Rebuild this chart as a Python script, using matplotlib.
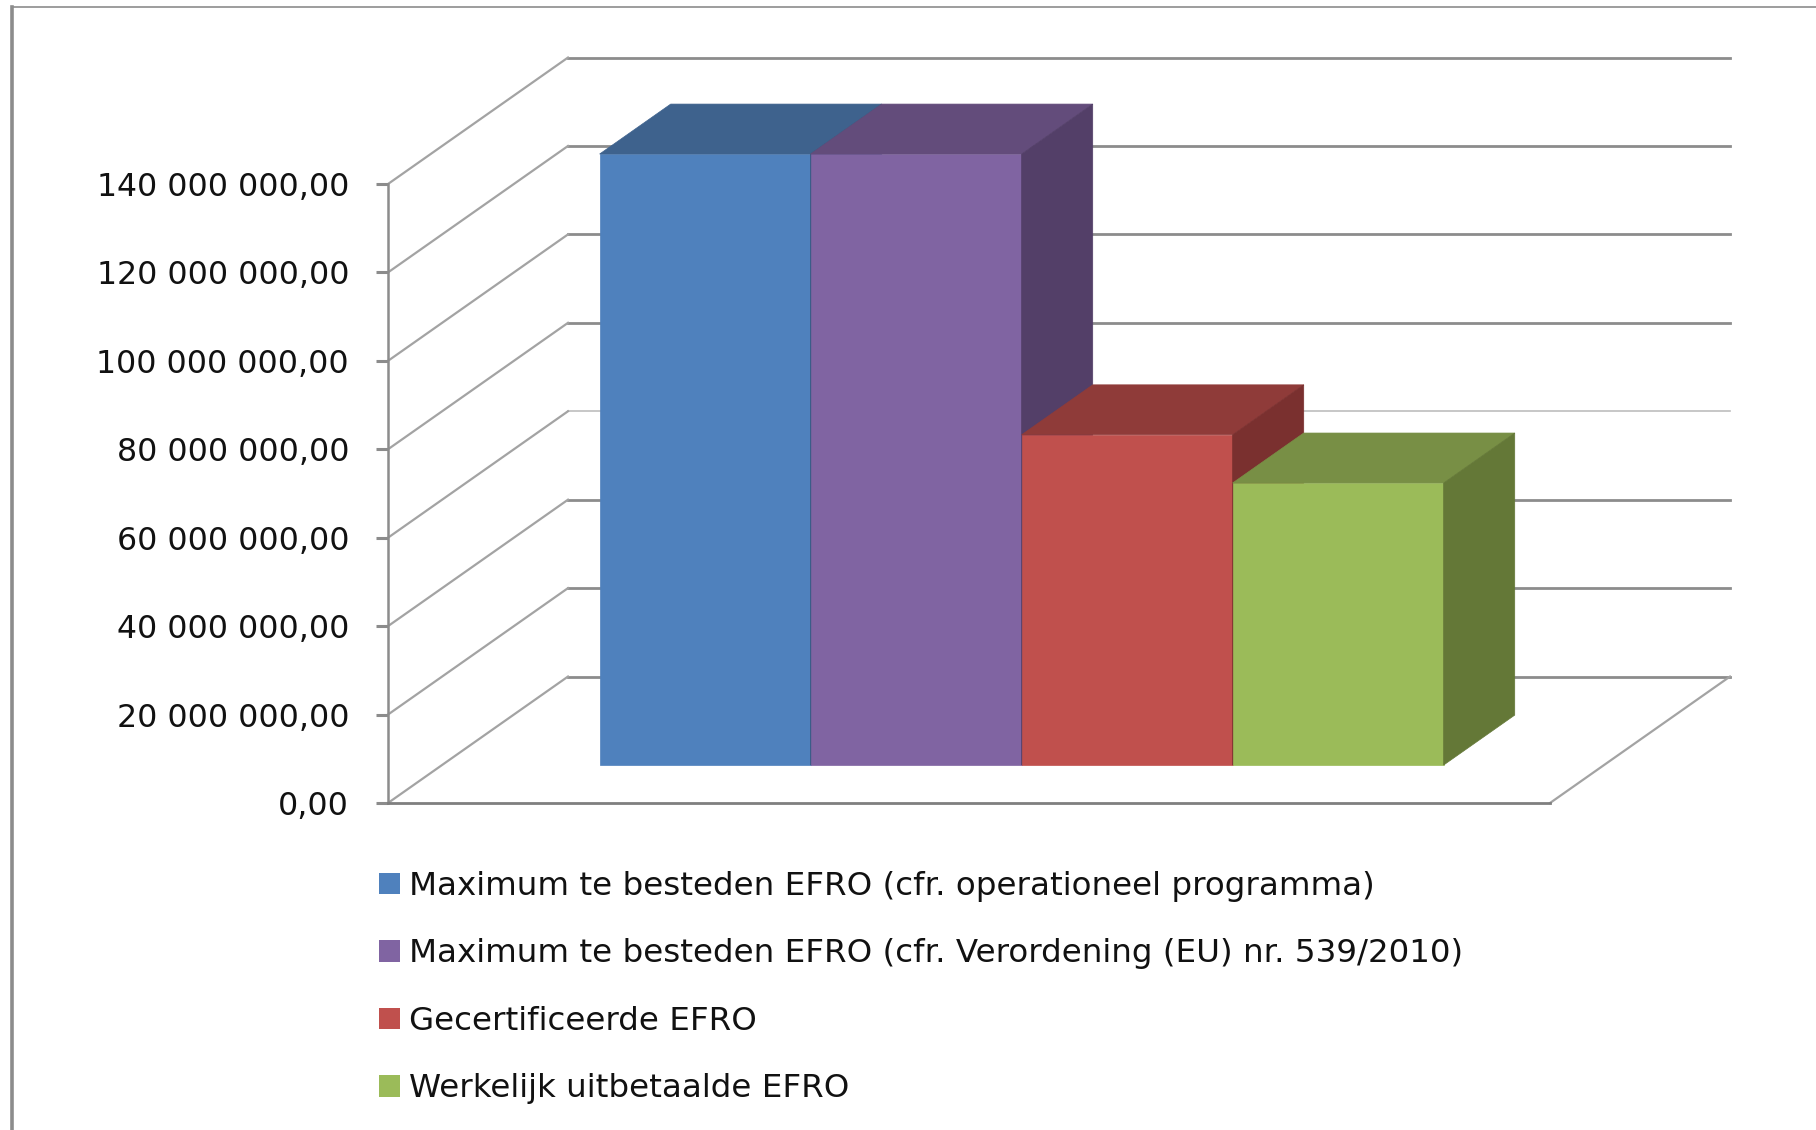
import matplotlib
matplotlib.use("Agg")
import matplotlib.pyplot as plt
import numpy as np
from matplotlib.lines import Line2D
from matplotlib.patches import Patch, Polygon

# values (EUR)
labels = [
    "Maximum te besteden EFRO (cfr. operationeel programma)",
    "Maximum te besteden EFRO (cfr. Verordening (EU) nr. 539/2010)",
    "Gecertificeerde EFRO",
    "Werkelijk uitbetaalde EFRO",
]
values = [138200000, 138200000, 74700000, 63800000]
ticks = [0, 20000000, 40000000, 60000000, 80000000, 100000000, 120000000, 140000000]

front_colors = ["#4F81BD", "#8064A2", "#C0504D", "#9BBB59"]
top_colors = ["#3E628D", "#634C7B", "#8F3B39", "#788F45"]
side_colors = ["#36567C", "#533F68", "#7A302F", "#647837"]

GRID, GRID_LIGHT = "#8C8C8C", "#BDBDBD"
W, H = 1816, 1130

# oblique projection: depth d runs 0 (front) to 1 (back wall)
DX = 0.853
DV = 28600000
BAR_D0, BAR_D1 = 0.30, 0.695


def project(x, v, d):
    return x + d * DX, v + d * DV


def face(ax, pts, color, z):
    ax.add_patch(Polygon([project(*p) for p in pts], closed=True, facecolor=color,
                         edgecolor=color, linewidth=0.5, zorder=z, clip_on=False))


plt.rcParams["font.family"] = ["DejaVu Sans"]
fig = plt.figure(figsize=(W / 100, H / 100), dpi=100)
ax = fig.add_axes([388 / W, 1 - 803 / H, (1550 - 388) / W, (803 - 184) / H])
ax.set_xlim(-0.747, 4.76)
ax.set_ylim(0, 140000000)
ax.patch.set_alpha(0)

# walls
x0, x1 = ax.get_xlim()
for v in ticks:
    thin = v == 60000000
    bx, by = project(x0, v, 1)
    ex, _ = project(x1, v, 1)
    ax.plot([bx, ex], [by, by], color=GRID_LIGHT if thin else GRID,
            lw=1.2 if thin else 2.0, zorder=1, clip_on=False)
    ax.plot([x0, bx], [v, by], color="#A3A3A3", lw=1.6, zorder=1, clip_on=False)
fx, fy = project(x1, 0, 1)
ax.plot([x1, fx], [0, fy], color="#A3A3A3", lw=1.6, zorder=1, clip_on=False)

# bars, left to right so each one covers the side of the previous
for i, v in enumerate(values):
    z = 3 + i
    l, r = i, i + 1
    face(ax, [(l, 0, BAR_D0), (r, 0, BAR_D0), (r, v, BAR_D0), (l, v, BAR_D0)], front_colors[i], z)
    face(ax, [(l, v, BAR_D0), (r, v, BAR_D0), (r, v, BAR_D1), (l, v, BAR_D1)], top_colors[i], z)
    face(ax, [(r, 0, BAR_D0), (r, v, BAR_D0), (r, v, BAR_D1), (r, 0, BAR_D1)], side_colors[i], z)

# axes
for s in ["top", "right"]:
    ax.spines[s].set_visible(False)
ax.spines["left"].set_color(GRID)
ax.spines["left"].set_linewidth(1.8)
ax.spines["bottom"].set_color("#7F7F7F")
ax.spines["bottom"].set_linewidth(2.0)
ax.set_xticks([])
ax.set_yticks(ticks)
ax.set_yticklabels([f"{t:,.2f}".replace(",", " ").replace(".", ",") for t in ticks], fontsize=22.8)
ax.tick_params(axis="y", length=9, width=2.2, color=GRID, pad=19, labelcolor="#111111")

handles = [Patch(facecolor=c, edgecolor="none") for c in front_colors]
ax.legend(handles, labels, loc="upper left", bbox_to_anchor=(-0.008, -0.11),
          frameon=False, fontsize=23.4, handlelength=0.64, handleheight=0.64,
          handletextpad=0.3, labelspacing=1.12, borderpad=0, borderaxespad=0,
          labelcolor="#111111")

# picture frame, top and left
fig.add_artist(Line2D([12 / W, 1], [1 - 7 / H, 1 - 7 / H], color="#8C8C8C", lw=1.2))
fig.add_artist(Line2D([12 / W, 12 / W], [0, 1 - 7 / H], color="#8C8C8C", lw=2.6))

fig.savefig("out.png", dpi=100)
